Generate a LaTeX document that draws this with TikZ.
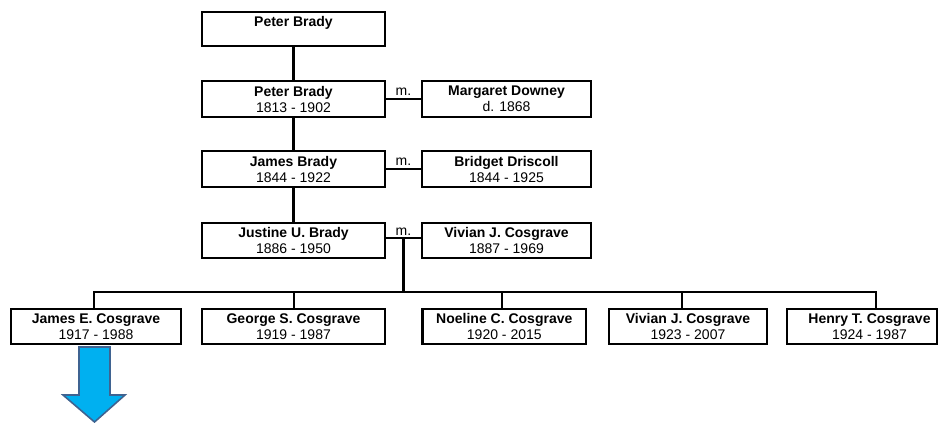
\documentclass[tikz,border=0pt]{standalone}
\usepackage{fontspec}
\setmainfont{Liberation Sans}
\definecolor{arrowfill}{HTML}{00B0F0}
\definecolor{arrowline}{HTML}{3F6391}
\begin{document}
\begin{tikzpicture}[x=1pt,y=-1pt,
  person/.style={draw=black, line width=2.6pt, rectangle, inner sep=0pt,
    minimum height=35pt, align=center,
    font=\fontsize{14}{16}\selectfont},
  conn/.style={draw=black, line width=2.3pt},
  mlabel/.style={font=\fontsize{14}{16}\selectfont, inner sep=0pt, anchor=base}]
\useasboundingbox (0,0) rectangle (938,423);
% generations
\node[person, minimum width=183pt, minimum height=34pt] (pb0) at (293.5,29) {\textbf{Peter Brady}\\\phantom{1813 - 1902}};
\node[person, minimum width=183pt, minimum height=36pt] (pb1) at (293.5,99) {\textbf{Peter Brady}\\1813 - 1902};
\node[person, minimum width=169pt, minimum height=36pt] (md) at (506.5,99) {\textbf{Margaret Downey}\\d. 1868};
\node[person, minimum width=183pt, minimum height=36pt] (jb) at (293.5,169) {\textbf{James Brady}\\1844 - 1922};
\node[person, minimum width=169pt, minimum height=36pt] (bd) at (506.5,169) {\textbf{Bridget Driscoll}\\1844 - 1925};
\node[person, minimum width=183pt] (ju) at (293.5,240.5) {\textbf{Justine U. Brady}\\1886 - 1950};
\node[person, minimum width=169pt] (vc) at (506.5,240.5) {\textbf{Vivian J. Cosgrave}\\1887 - 1969};
% children
\node[person, minimum width=170pt] (jec) at (96,326.5) {\textbf{James E. Cosgrave}\\1917 - 1988};
\node[person, minimum width=183pt] (gsc) at (293.5,326.5) {\textbf{George S. Cosgrave}\\1919 - 1987};
\node[person, minimum width=163.4pt] (ncc) at (504.3,326.5) {\textbf{Noeline C. Cosgrave}\\1920 - 2015};
\node[person, minimum width=158pt] (vjc) at (688,326.5) {\textbf{Vivian J. Cosgrave}\\1923 - 2007};
\node[person, minimum width=150pt] (htc) at (862,326.5) {\hspace*{15pt}\textbf{Henry T. Cosgrave}\\\hspace*{15pt}1924 - 1987};
% descent lines
\draw[conn] (pb0.south) -- (pb1.north);
\draw[conn] (pb1.south) -- (jb.north);
\draw[conn] (jb.south) -- (ju.north);
% marriages
\draw[conn] (pb1.east) -- (md.west) coordinate[pos=0.5] (m1);
\draw[conn] (jb.east) -- (bd.west) coordinate[pos=0.5] (m2);
\draw[conn] ([yshift=2.5pt]ju.east) -- ([yshift=2.5pt]vc.west) coordinate[pos=0.5] (m3);
\node[mlabel] at ([yshift=4pt]m1) {m.};
\node[mlabel] at ([yshift=4pt]m2) {m.};
\node[mlabel] at ([yshift=3pt]m3) {m.};
% children bus
\coordinate (bus) at (m3 |- 0,292);
\draw[conn] (m3) -- (bus);
\draw[conn] (bus) -| ([xshift=-2pt]jec.north);
\draw[conn] (bus) -| ([xshift=0.5pt]gsc.north);
\draw[conn] (bus) -| ([xshift=-2.3pt]ncc.north);
\draw[conn] (bus) -| ([xshift=-6pt]vjc.north);
\draw[conn] (bus) -| ([xshift=14pt]htc.north);
% big arrow
\draw[fill=arrowfill, draw=arrowline, line width=1.6pt, line join=miter]
  (79,347) -- (110,347) -- (110,395) -- (125,395) -- (94.5,422) -- (63,395) -- (79,395) -- cycle;
\end{tikzpicture}
\end{document}
